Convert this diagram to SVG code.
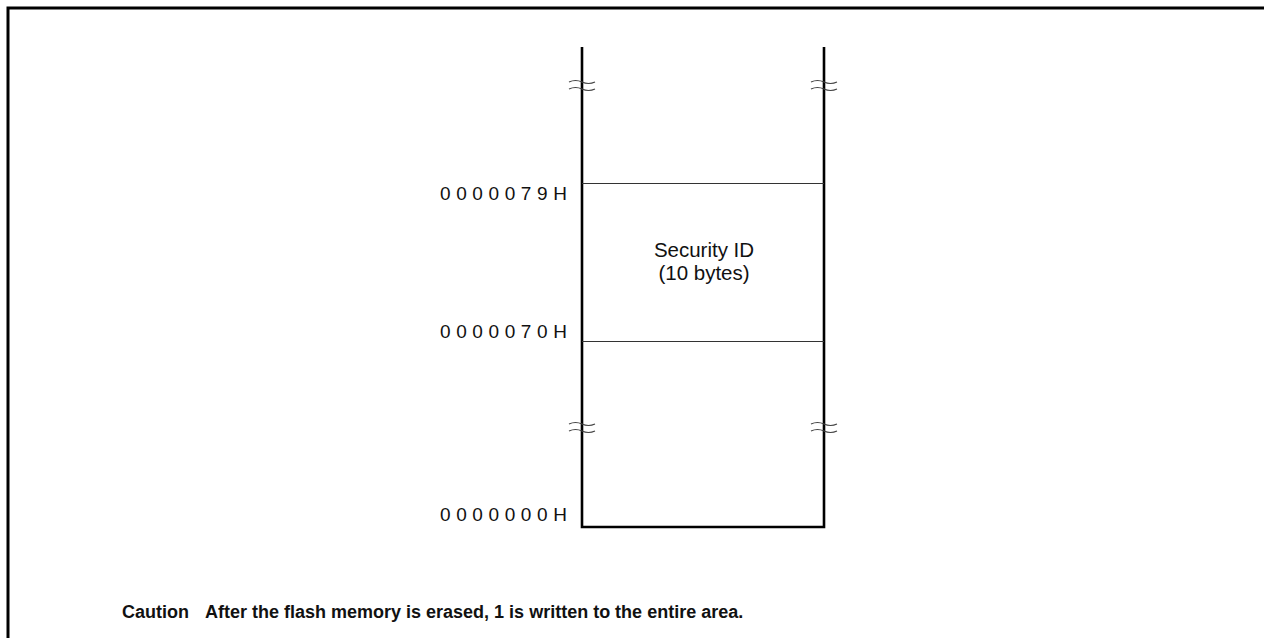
<svg xmlns="http://www.w3.org/2000/svg" width="1264" height="638" viewBox="0 0 1264 638">
<style>
.frame{stroke:#000;stroke-width:3;fill:none}
.wall{stroke:#000;stroke-width:2.6;fill:none}
.div{stroke:#333;stroke-width:1.2;fill:none}
.brk{stroke:#444;stroke-width:1.2;fill:none}
.addr{font-family:"Liberation Sans",Arial,sans-serif;font-size:19px;letter-spacing:5.6px;fill:#111}
.lbl{font-family:"Liberation Sans",Arial,sans-serif;font-size:20.5px;fill:#111;text-anchor:middle}
.cau{font-family:"Liberation Sans",Arial,sans-serif;font-size:18px;font-weight:bold;fill:#111}
</style>
<rect width="1264" height="638" fill="#fff"/>
<g id="frame">
<path class="frame" d="M6.5,8 H1264 M8,6.5 V638"/>
</g>
<g id="memory">
<path class="wall" d="M582,47 V527 H824 V47"/>
<path class="div" d="M582,183.5 H824 M582,341.5 H824"/>
</g>
<g id="breaks">
<path class="brk" d="M569,82 q6.5,-3 13,0 t13,0 M569,89 q6.5,-3 13,0 t13,0"/>
<path class="brk" d="M811,82 q6.5,-3 13,0 t13,0 M811,89 q6.5,-3 13,0 t13,0"/>
<path class="brk" d="M569,424 q6.5,-3 13,0 t13,0 M569,431 q6.5,-3 13,0 t13,0"/>
<path class="brk" d="M811,424 q6.5,-3 13,0 t13,0 M811,431 q6.5,-3 13,0 t13,0"/>
</g>
<g id="labels">
<text class="addr" x="440" y="200">0000079H</text>
<text class="addr" x="440" y="338">0000070H</text>
<text class="addr" x="440" y="521">0000000H</text>
</g>
<g id="security-id">
<text class="lbl" x="704" y="257">Security ID</text>
<text class="lbl" x="704" y="280">(10 bytes)</text>
</g>
<g id="caution">
<text class="cau" x="122" y="618">Caution</text>
<text class="cau" x="205" y="618">After the flash memory is erased, 1 is written to the entire area.</text>
</g>
</svg>
